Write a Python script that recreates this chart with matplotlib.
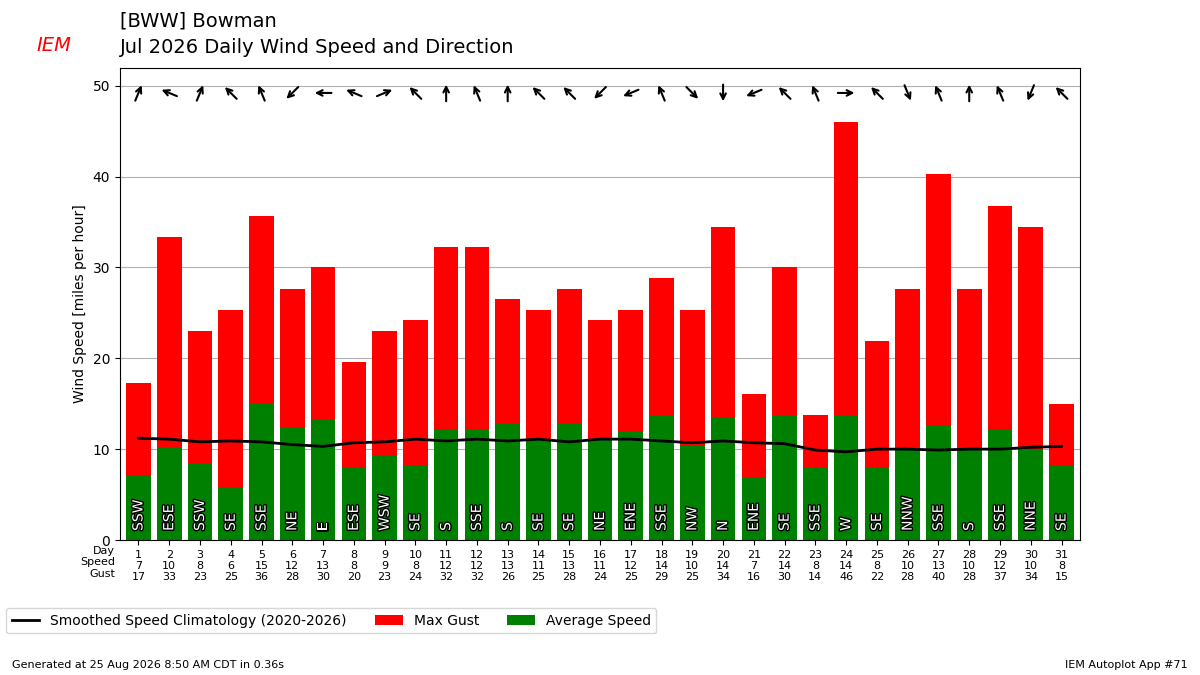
import matplotlib
matplotlib.use("Agg")
import matplotlib.pyplot as plt
import matplotlib.patheffects as pe
import numpy as np

days = list(range(1, 32))
avg_speed = [7.1, 10.1, 8.5, 5.8, 15.0, 12.4, 13.2, 8.0, 9.3, 8.2, 12.2, 12.2, 12.8, 11.0, 12.8, 11.0,
             12.0, 13.7, 10.5, 13.5, 6.9, 13.8, 8.0, 13.8, 8.0, 10.0, 12.6, 10.0, 12.2, 10.0, 8.2]
max_gust = [17.3, 33.4, 23.0, 25.3, 35.7, 27.6, 30.0, 19.6, 23.0, 24.2, 32.2, 32.2, 26.5, 25.3, 27.6, 24.2,
            25.3, 28.8, 25.3, 34.5, 16.1, 30.0, 13.8, 46.0, 21.9, 27.6, 40.3, 27.6, 36.8, 34.5, 15.0]
climo = [11.2, 11.1, 10.8, 10.9, 10.8, 10.5, 10.3, 10.7, 10.8, 11.1, 10.9, 11.1, 10.9, 11.1, 10.8, 11.1,
         11.1, 10.9, 10.7, 10.9, 10.7, 10.6, 9.9, 9.7, 10.0, 10.0, 9.9, 10.0, 10.0, 10.2, 10.3]
directions = ["SSW", "ESE", "SSW", "SE", "SSE", "NE", "E", "ESE", "WSW", "SE", "S", "SSE", "S", "SE",
              "SE", "NE", "ENE", "SSE", "NW", "N", "ENE", "SE", "SSE", "W", "SE", "NNW", "SSE", "S",
              "SSE", "NNE", "SE"]

compass = ["N", "NNE", "NE", "ENE", "E", "ESE", "SE", "SSE", "S", "SSW", "SW", "WSW", "W", "WNW", "NW", "NNW"]

fig = plt.figure(figsize=(12, 6.75), dpi=100)
ax = fig.add_axes([0.1, 0.2, 0.8, 0.7])

ax.bar(days, max_gust, color="red", label="Max Gust", zorder=2)
ax.bar(days, avg_speed, color="green", label="Average Speed", zorder=2)
ax.plot(days, climo, color="k", lw=2, label="Smoothed Speed Climatology (2020-2026)", zorder=3)
ax.grid(axis="y", zorder=0)
ax.set_ylim(0, 52)
ax.set_xlim(0.4, 31.6)
ax.set_ylabel("Wind Speed [miles per hour]")
ax.set_yticks([0, 10, 20, 30, 40, 50])

for d, dr in zip(days, directions):
    ax.text(d, 1, dr, rotation=90, ha="center", va="bottom", color="white", fontsize=10, zorder=4,
            path_effects=[pe.withStroke(linewidth=2, foreground="k")])
    # arrow points toward where the wind blows
    deg = compass.index(dr) * 22.5 + 180
    dx = np.sin(np.radians(deg))
    dy = np.cos(np.radians(deg))
    ax.annotate("", xy=(dx * 5, dy * 5), xycoords=("data", "data"),
                xytext=(-dx * 5, -dy * 5), textcoords="offset points",
                arrowprops=dict(arrowstyle="->", lw=1.5, color="k")) if False else None
    ax.annotate("", xy=(d, 49.2), xycoords="data",
                xytext=(0, 0), textcoords="offset points",
                arrowprops=dict(arrowstyle="<-", lw=1.5, color="k", shrinkA=0, shrinkB=0,
                                relpos=(0.5, 0.5)))
    ax.annotate("", xy=(dx * 6, dy * 6), xycoords="offset points",
                xytext=(-dx * 6, -dy * 6), textcoords="offset points",
                annotation_clip=False,
                arrowprops=dict(arrowstyle="->", lw=1.5, color="k", shrinkA=0, shrinkB=0)) if False else None

# draw arrows centered on each day using data anchors with point offsets
for d, dr in zip(days, directions):
    deg = compass.index(dr) * 22.5 + 180
    dx = np.sin(np.radians(deg)) * 6
    dy = np.cos(np.radians(deg)) * 6
    tip = ax.transData.transform((d, 49.2))
    ax.annotate("", xy=(tip[0] + dx * 100 / 72, tip[1] + dy * 100 / 72), xycoords="figure pixels",
                xytext=(tip[0] - dx * 100 / 72, tip[1] - dy * 100 / 72), textcoords="figure pixels",
                arrowprops=dict(arrowstyle="->", lw=1.5, color="k", shrinkA=0, shrinkB=0))

ax.set_xticks(days)
ax.set_xticklabels(["%d\n%d\n%d" % (d, round(s), round(g)) for d, s, g in zip(days, avg_speed, max_gust)],
                   fontsize=8, linespacing=1.15)
ax.text(-0.005, -0.013, "Day\nSpeed\nGust", transform=ax.transAxes, ha="right", va="top",
        fontsize=8, linespacing=1.15)

ax.legend(loc="upper center", bbox_to_anchor=(0.22, -0.13), ncol=3, fontsize=10)

fig.text(0.1, 0.955, "[BWW] Bowman", fontsize=14, va="bottom")
fig.text(0.1, 0.915, "Jul 2026 Daily Wind Speed and Direction", fontsize=14, va="bottom")
fig.text(0.03, 0.925, "IEM", color="red", fontsize=14, style="italic")
fig.text(0.01, 0.01, "Generated at 25 Aug 2026 8:50 AM CDT in 0.36s", fontsize=8)
fig.text(0.99, 0.01, "IEM Autoplot App #71", fontsize=8, ha="right")

fig.savefig("out.png")
